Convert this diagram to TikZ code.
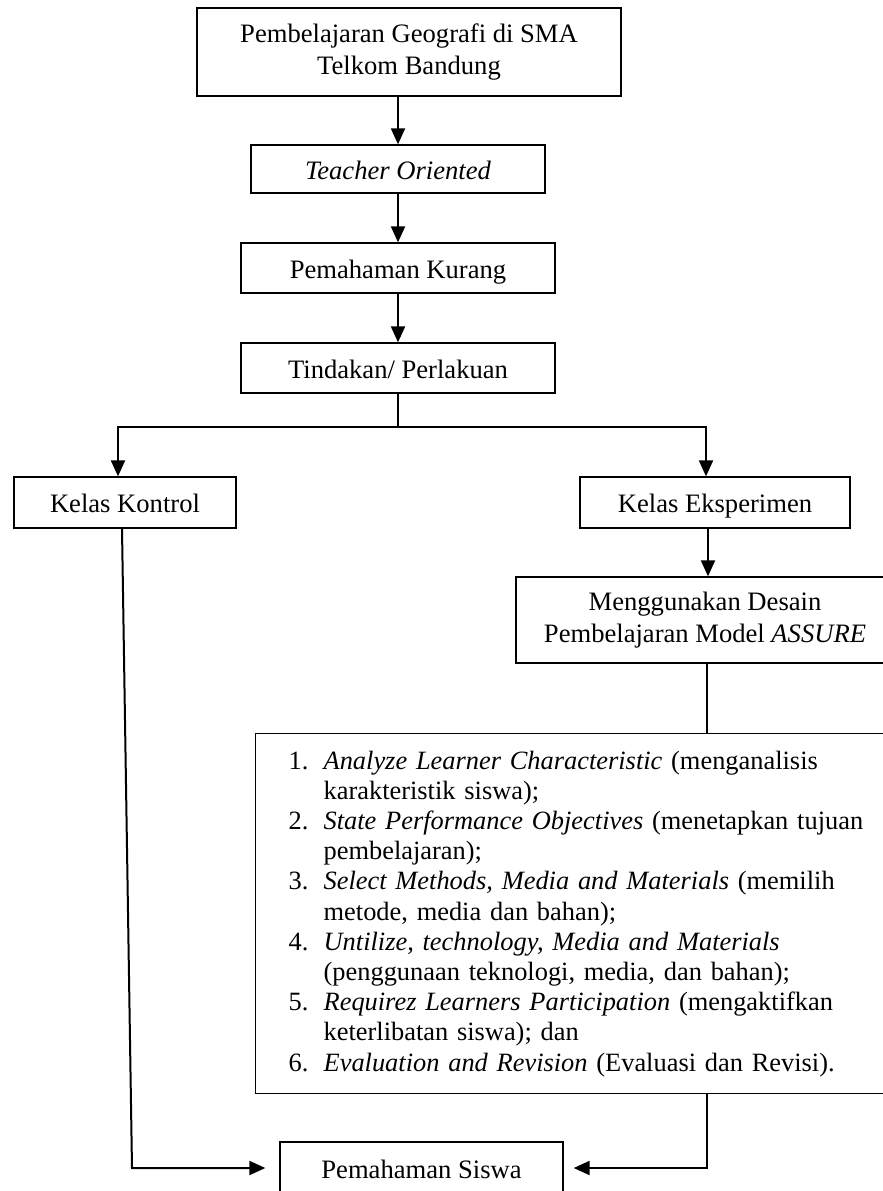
\documentclass[tikz,border=0pt]{standalone}
\usepackage{fontspec}
\setmainfont{Liberation Serif}
\usetikzlibrary{arrows.meta,positioning}
\newcommand\itemno[1]{\makebox[35pt][l]{#1}}
\newcommand\itemind{\hspace*{35pt}}
\begin{document}
\begin{tikzpicture}[x=1pt,y=-1pt,
  box/.style={draw=black,line width=1.3pt,rectangle,align=center,inner sep=0pt,
    font=\fontsize{26.6}{32}\selectfont},
  oneline/.style={text height=20pt,text depth=0pt},
  conn/.style={draw=black,line width=2pt},
  arr/.style={conn,-{Triangle[length=16pt,width=14pt]}}]
\clip (0,0) rectangle (883,1191);
\fill[white] (0,0) rectangle (883,1191);
% nodes
\node[box,minimum width=424,minimum height=88] (b1) at (409,52)
  {Pembelajaran Geografi di SMA\\Telkom Bandung};
\node[box,oneline,minimum width=294,minimum height=48] (b2) at (398,169)
  {\textit{Teacher Oriented}};
\node[box,oneline,minimum width=314,minimum height=50] (b3) at (398,268)
  {Pemahaman Kurang};
\node[box,oneline,minimum width=314,minimum height=50] (b4) at (398,368)
  {Tindakan/ Perlakuan};
\node[box,oneline,minimum width=222,minimum height=51] (kk) at (125,502.5)
  {Kelas Kontrol};
\node[box,oneline,minimum width=270,minimum height=51] (ke) at (715,502.5)
  {Kelas Eksperimen};
\node[box,minimum width=378,minimum height=86] (mg) at (705,620)
  {Menggunakan Desain\\Pembelajaran Model \textit{ASSURE}};
\node[box,anchor=north west,align=left,text width=590,inner xsep=33pt,inner ysep=0pt,
  minimum height=360,font=\fontsize{26.4}{30.2}\selectfont] (lst) at (255,733)
  {\itemno{1.}\textit{Analyze Learner Characteristic} (menganalisis\\
   \itemind karakteristik siswa);\\
   \itemno{2.}\textit{State Performance Objectives} (menetapkan tujuan\\
   \itemind pembelajaran);\\
   \itemno{3.}\textit{Select Methods, Media and Materials} (memilih\\
   \itemind metode, media dan bahan);\\
   \itemno{4.}\textit{Untilize, technology, Media and Materials}\\
   \itemind (penggunaan teknologi, media, dan bahan);\\
   \itemno{5.}\textit{Requirez Learners Participation} (mengaktifkan\\
   \itemind keterlibatan siswa); dan\\
   \itemno{6.}\textit{Evaluation and Revision} (Evaluasi dan Revisi).};
\node[box,oneline,minimum width=283,minimum height=52] (ps) at (421.5,1168)
  {Pemahaman Siswa};
% connectors
\coordinate (split) at (398,427);
\coordinate (kc) at (132,1168);
\draw[arr] (b1.south -| b2.north) -- (b2.north);
\draw[arr] (b2.south) -- (b3.north);
\draw[arr] (b3.south) -- (b4.north);
\draw[conn] (b4.south) -- (split);
\draw[arr] (split) -| ([xshift=-7pt]kk.north);
\draw[arr] (split) -| ([xshift=-9pt]ke.north);
\draw[arr] ([xshift=-7pt]ke.south) -- ([xshift=3pt]mg.north);
\draw[conn] ([xshift=2pt]mg.south) -- ([xshift=2pt]mg.south |- lst.north);
\draw[arr,shorten >=10pt] ([xshift=2pt]mg.south |- lst.south) |- (ps.east);
\draw[arr,shorten >=14pt] ([xshift=-3pt]kk.south) -- (kc) -- (ps.west);
\end{tikzpicture}
\end{document}
